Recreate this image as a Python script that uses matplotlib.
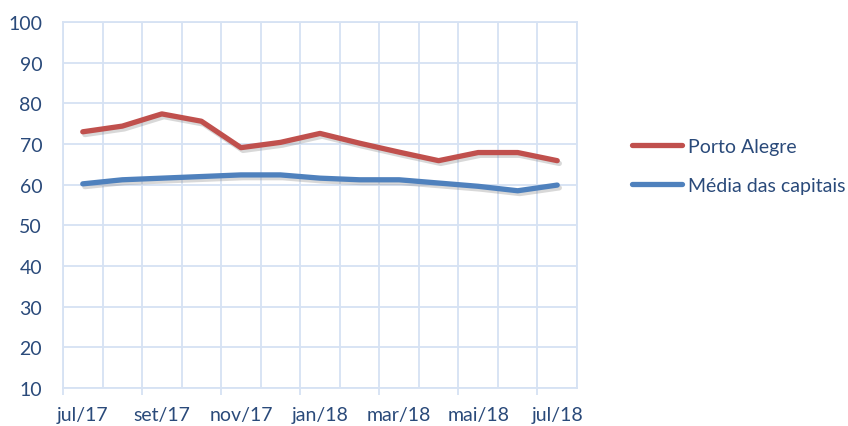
import numpy as np
import matplotlib
matplotlib.use("Agg")
import matplotlib.pyplot as plt
import matplotlib.patheffects as pe

months = ["jul/17", "ago/17", "set/17", "out/17", "nov/17", "dez/17", "jan/18",
          "fev/18", "mar/18", "abr/18", "mai/18", "jun/18", "jul/18"]
porto_alegre = [73.0, 74.4, 77.4, 75.6, 69.1, 70.4, 72.6, 70.2, 68.0, 65.9, 67.9, 67.9, 65.9]
media_capitais = [60.2, 61.2, 61.6, 62.0, 62.4, 62.4, 61.6, 61.2, 61.2, 60.4, 59.6, 58.5, 59.9]
series_names = ["Porto Alegre", "Média das capitais"]
y_ticks = list(range(10, 101, 10))

plt.rcParams['font.family'] = ['Lato', 'DejaVu Sans']
text_color = "#2A4A7A"
grid_color = "#D6E2F3"
red = "#C0504D"
blue = "#4F81BD"

fig = plt.figure(figsize=(8.48, 4.27), dpi=100)
ax = fig.add_axes([63/848, 1-389/427, (577-63)/848, (389-23)/427])

x = np.arange(len(months))
shadow = [pe.SimpleLineShadow(offset=(1.5, -2.0), shadow_color="#808080", alpha=0.3), pe.Normal()]
ax.plot(x, porto_alegre, color=red, lw=3.8, solid_capstyle="round", solid_joinstyle="round",
        label=series_names[0], path_effects=shadow, zorder=3)
ax.plot(x, media_capitais, color=blue, lw=3.8, solid_capstyle="round", solid_joinstyle="round",
        label=series_names[1], path_effects=shadow, zorder=3)

ax.set_xlim(-0.5, len(months) - 0.5)
ax.set_ylim(10, 100)
ax.set_yticks(y_ticks)
ax.yaxis.grid(True, color=grid_color, lw=1.3)
for b in np.arange(-0.5, len(months)):
    ax.axvline(b, color=grid_color, lw=1.3, zorder=0)

ax.set_xticks(np.arange(-0.5, len(months) - 1, 2))
ax.set_xticklabels([])
ax.tick_params(axis="x", which="major", length=5, width=1.3, color=grid_color, direction="out")
ax.set_xticks(x[::2], minor=True)
ax.set_xticklabels(months[::2], minor=True)
ax.tick_params(axis="x", which="minor", length=0, pad=13, labelsize=14, labelcolor=text_color)
ax.tick_params(axis="y", length=0, pad=15, labelsize=14, labelcolor=text_color)

for s in ax.spines.values():
    s.set_color(grid_color)
    s.set_linewidth(1.3)

leg = fig.legend(loc="center left", bbox_to_anchor=(0.745, 0.609), frameon=False,
                 borderpad=0, borderaxespad=0, handlelength=2.6, handletextpad=0.3,
                 labelspacing=1.1, prop={"size": 14})
for t in leg.get_texts():
    t.set_color(text_color)
for h in leg.get_lines():
    h.set_path_effects([])

fig.savefig("out.png", dpi=100)
